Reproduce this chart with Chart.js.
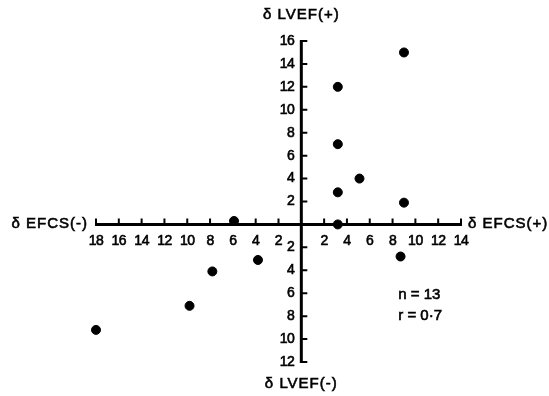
<!DOCTYPE html>
<html>
<head>
<meta charset="utf-8">
<script src="https://cdn.jsdelivr.net/npm/chart.js@4.4.1/dist/chart.umd.min.js"></script>
<style>
  body { margin: 0; background: #fff; }
  #wrap { width: 549px; height: 396px; }
</style>
</head>
<body>
<div id="wrap"><canvas id="scatter-chart"></canvas></div>
<script>
// δ EFCS (x) vs δ LVEF (y), n = 13
const efcs = [9, 3.2, 3.2, 5.1, 3.2, 9, 3.2, -5.9, 8.7, -3.8, -7.8, -9.8, -18];
const lvef = [15, 12, 7, 4, 2.8, 1.9, 0, 0.3, -2.8, -3.1, -4.1, -7.1, -9.2];

const xTicks = [-18, -16, -14, -12, -10, -8, -6, -4, -2, 2, 4, 6, 8, 10, 12, 14];
const yTicks = [-12, -10, -8, -6, -4, -2, 2, 4, 6, 8, 10, 12, 14, 16];

const notes = ["n = 13", "r = 0·7"];

const points = efcs.map((x, i) => ({ x: x, y: lvef[i] }));

// text a bit heavier than regular, like the printed figure
function label(ctx, t, x, y) {
    ctx.fillText(t, x, y);
    ctx.strokeText(t, x, y);
}

// draws the crossing axes, ticks and titles at 0,0
const crossAxes = {
    id: 'crossAxes',
    beforeDatasetsDraw(chart) {
        const ctx = chart.ctx;
        const sx = chart.scales.x;
        const sy = chart.scales.y;
        const x0 = sx.getPixelForValue(0);
        const y0 = sy.getPixelForValue(0);
        const xMin = sx.getPixelForValue(xTicks[0]);
        const xMax = sx.getPixelForValue(xTicks[xTicks.length - 1]);
        const yMin = sy.getPixelForValue(yTicks[0]);
        const yMax = sy.getPixelForValue(yTicks[yTicks.length - 1]);

        ctx.save();
        ctx.strokeStyle = '#000';
        ctx.fillStyle = '#000';

        ctx.lineWidth = 3;
        ctx.beginPath();
        ctx.moveTo(xMin - 1, y0);
        ctx.lineTo(xMax + 1, y0);
        ctx.moveTo(x0, yMax - 1);
        ctx.lineTo(x0, yMin + 1);
        ctx.stroke();

        ctx.lineWidth = 2;
        ctx.beginPath();
        xTicks.forEach(v => {
            const px = sx.getPixelForValue(v);
            ctx.moveTo(px, y0);
            ctx.lineTo(px, y0 - 6);
        });
        yTicks.forEach(v => {
            const py = sy.getPixelForValue(v);
            ctx.moveTo(x0, py);
            ctx.lineTo(x0 + 6, py);
        });
        ctx.stroke();

        ctx.lineWidth = 0.6;
        ctx.font = '14px "Liberation Sans"';
        ctx.letterSpacing = '-0.5px';
        ctx.textBaseline = 'middle';
        ctx.textAlign = 'center';
        xTicks.forEach(v => {
            label(ctx, String(Math.abs(v)), sx.getPixelForValue(v), y0 + 17);
        });
        ctx.textAlign = 'right';
        yTicks.forEach(v => {
            label(ctx, String(Math.abs(v)), x0 - 7, sy.getPixelForValue(v));
        });

        ctx.font = '15px "Liberation Sans"';
        ctx.letterSpacing = '1px';
        ctx.textAlign = 'center';
        label(ctx, 'δ LVEF(+)', x0, yMax - 26);
        label(ctx, 'δ LVEF(-)', x0, yMin + 22);
        ctx.textAlign = 'right';
        label(ctx, 'δ EFCS(-)', xMin - 8, y0 - 1);
        ctx.textAlign = 'left';
        label(ctx, 'δ EFCS(+)', xMax + 7, y0 - 1);

        ctx.font = '15px "Liberation Sans"';
        ctx.letterSpacing = '0px';
        notes.forEach((t, i) => {
            label(ctx, t, sx.getPixelForValue(8.5), sy.getPixelForValue(-6.1) + i * 21);
        });
        ctx.restore();
    }
};

new Chart(document.getElementById('scatter-chart'), {
    type: 'scatter',
    data: {
        datasets: [{
            data: points,
            backgroundColor: '#000',
            borderColor: '#000',
            pointRadius: 4.5,
            pointHoverRadius: 4.5,
            clip: false
        }]
    },
    options: {
        responsive: true,
        maintainAspectRatio: false,
        animation: false,
        layout: { padding: { left: 96, right: 88, top: 41, bottom: 34 } },
        plugins: { legend: { display: false }, tooltip: { enabled: false } },
        scales: {
            x: { type: 'linear', min: -18, max: 14, display: false },
            y: { type: 'linear', min: -12, max: 16, display: false }
        }
    },
    plugins: [crossAxes]
});
</script>
</body>
</html>
